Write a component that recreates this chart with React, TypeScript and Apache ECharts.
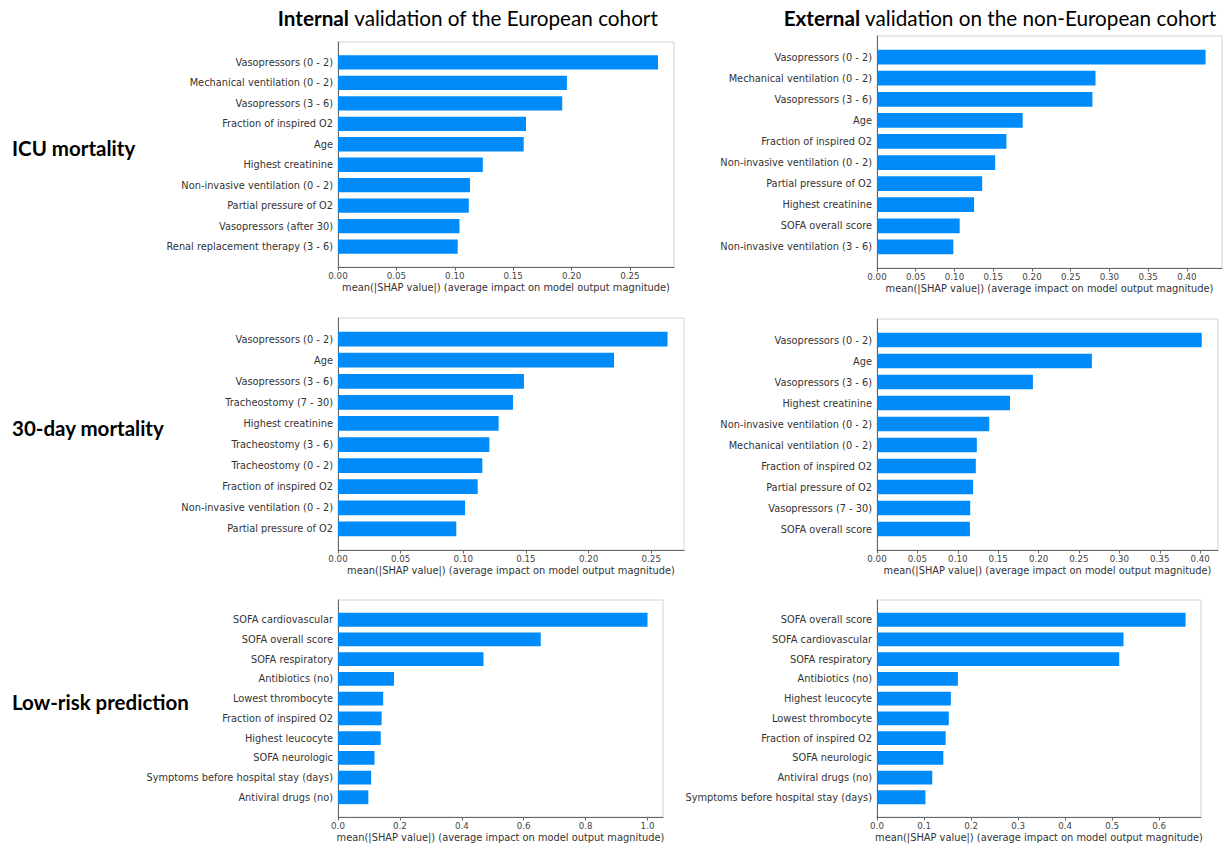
import React, { useEffect, useRef } from "react";
import * as echarts from "echarts";

// Mean |SHAP| feature importances, top ten features per model and cohort.
const icuInternalFeatures = [
  "Vasopressors (0 - 2)",
  "Mechanical ventilation (0 - 2)",
  "Vasopressors (3 - 6)",
  "Fraction of inspired O2",
  "Age",
  "Highest creatinine",
  "Non-invasive ventilation (0 - 2)",
  "Partial pressure of O2",
  "Vasopressors (after 30)",
  "Renal replacement therapy (3 - 6)",
];
const icuInternalValues = [0.274, 0.196, 0.192, 0.161, 0.159, 0.124, 0.113, 0.112, 0.104, 0.1025];

const icuExternalFeatures = [
  "Vasopressors (0 - 2)",
  "Mechanical ventilation (0 - 2)",
  "Vasopressors (3 - 6)",
  "Age",
  "Fraction of inspired O2",
  "Non-invasive ventilation (0 - 2)",
  "Partial pressure of O2",
  "Highest creatinine",
  "SOFA overall score",
  "Non-invasive ventilation (3 - 6)",
];
const icuExternalValues = [0.424, 0.282, 0.278, 0.188, 0.167, 0.1525, 0.1357, 0.1253, 0.1067, 0.0985];

const day30InternalFeatures = [
  "Vasopressors (0 - 2)",
  "Age",
  "Vasopressors (3 - 6)",
  "Tracheostomy (7 - 30)",
  "Highest creatinine",
  "Tracheostomy (3 - 6)",
  "Tracheostomy (0 - 2)",
  "Fraction of inspired O2",
  "Non-invasive ventilation (0 - 2)",
  "Partial pressure of O2",
];
const day30InternalValues = [0.263, 0.2203, 0.1484, 0.1397, 0.1282, 0.1208, 0.1152, 0.1115, 0.1014, 0.0944];

const day30ExternalFeatures = [
  "Vasopressors (0 - 2)",
  "Age",
  "Vasopressors (3 - 6)",
  "Highest creatinine",
  "Non-invasive ventilation (0 - 2)",
  "Mechanical ventilation (0 - 2)",
  "Fraction of inspired O2",
  "Partial pressure of O2",
  "Vasopressors (7 - 30)",
  "SOFA overall score",
];
const day30ExternalValues = [0.402, 0.266, 0.193, 0.1646, 0.139, 0.1236, 0.1223, 0.119, 0.1154, 0.115];

const lowRiskInternalFeatures = [
  "SOFA cardiovascular",
  "SOFA overall score",
  "SOFA respiratory",
  "Antibiotics (no)",
  "Lowest thrombocyte",
  "Fraction of inspired O2",
  "Highest leucocyte",
  "SOFA neurologic",
  "Symptoms before hospital stay (days)",
  "Antiviral drugs (no)",
];
const lowRiskInternalValues = [1.0, 0.655, 0.47, 0.181, 0.146, 0.141, 0.138, 0.118, 0.107, 0.098];

const lowRiskExternalFeatures = [
  "SOFA overall score",
  "SOFA cardiovascular",
  "SOFA respiratory",
  "Antibiotics (no)",
  "Highest leucocyte",
  "Lowest thrombocyte",
  "Fraction of inspired O2",
  "SOFA neurologic",
  "Antiviral drugs (no)",
  "Symptoms before hospital stay (days)",
];
const lowRiskExternalValues = [0.656, 0.524, 0.515, 0.172, 0.157, 0.1526, 0.146, 0.141, 0.1175, 0.103];

// Tick values for the x axes.
const ticksFine = [0, 0.05, 0.1, 0.15, 0.2, 0.25];
const ticksFineWide = [0, 0.05, 0.1, 0.15, 0.2, 0.25, 0.3, 0.35, 0.4];
const ticksTenths = [0, 0.1, 0.2, 0.3, 0.4, 0.5, 0.6];
const ticksFifths = [0, 0.2, 0.4, 0.6, 0.8, 1.0];

const columnTitles = [
  { bold: "Internal", rest: " validation of the European cohort" },
  { bold: "External", rest: " validation on the non-European cohort" },
];
const rowTitles = ["ICU mortality", "30-day mortality", "Low-risk prediction"];

const xAxisName = "mean(|SHAP value|) (average impact on model output magnitude)";

const BAR_COLOR = "#008bfb";
const PLOT_FONT = '"DejaVu Sans", Verdana, sans-serif';
const HEAD_FONT = 'Lato, "Open Sans", "Noto Sans", sans-serif';

// Plot boxes: [left, top, width, height] in px.
const panels = [
  { features: icuInternalFeatures, values: icuInternalValues, ticks: ticksFine, digits: 2, box: [338, 42, 336, 225] },
  { features: icuExternalFeatures, values: icuExternalValues, ticks: ticksFineWide, digits: 2, box: [877, 36, 345, 232] },
  { features: day30InternalFeatures, values: day30InternalValues, ticks: ticksFine, digits: 2, box: [338, 318, 346, 232] },
  { features: day30ExternalFeatures, values: day30ExternalValues, ticks: ticksFineWide, digits: 2, box: [877, 319, 341, 231] },
  { features: lowRiskInternalFeatures, values: lowRiskInternalValues, ticks: ticksFifths, digits: 1, box: [338, 600, 325, 217] },
  { features: lowRiskExternalFeatures, values: lowRiskExternalValues, ticks: ticksTenths, digits: 1, box: [877, 600, 324, 217] },
];

const columnCenters = [468, 1000];
const rowCenters = [148, 428, 702];

function buildOption() {
  const grid: any[] = [];
  const xAxis: any[] = [];
  const yAxis: any[] = [];
  const series: any[] = [];

  panels.forEach((p, i) => {
    const [left, top, width, height] = p.box;
    grid.push({
      left,
      top,
      width,
      height,
      show: true,
      borderColor: "#d4d4d4",
      borderWidth: 1,
      backgroundColor: "transparent",
    });
    xAxis.push({
      type: "value",
      gridIndex: i,
      min: 0,
      max: (e: { max: number }) => e.max * 1.05,
      splitLine: { show: false },
      axisLine: { show: true, lineStyle: { color: "#666", width: 1 } },
      axisTick: {
        show: true,
        length: 3.5,
        lineStyle: { color: "#666" },
        customValues: p.ticks,
      },
      axisLabel: {
        customValues: p.ticks,
        formatter: (v: number) => v.toFixed(p.digits),
        fontFamily: PLOT_FONT,
        fontSize: 8.7,
        color: "#444",
        margin: 4,
      },
      name: xAxisName,
      nameLocation: "middle",
      nameGap: 15,
      nameTextStyle: { fontFamily: PLOT_FONT, fontSize: 9.85, color: "#333" },
    });
    yAxis.push({
      type: "category",
      gridIndex: i,
      inverse: true,
      boundaryGap: false,
      data: ["", ...p.features, ""],
      axisLine: { show: true, lineStyle: { color: "#666", width: 1 } },
      axisTick: { show: false },
      splitLine: { show: false },
      axisLabel: {
        interval: 0,
        fontFamily: PLOT_FONT,
        fontSize: 9.8,
        color: "#333",
        margin: 5,
      },
    });
    series.push({
      type: "bar",
      xAxisIndex: i,
      yAxisIndex: i,
      barWidth: "70%",
      data: ["-", ...p.values, "-"],
      itemStyle: { color: BAR_COLOR },
    });
  });

  const graphic: any[] = [];
  columnTitles.forEach((t, i) => {
    graphic.push({
      type: "text",
      x: columnCenters[i],
      y: 18,
      style: {
        text: `{b|${t.bold}}{n|${t.rest}}`,
        align: "center",
        verticalAlign: "middle",
        fill: "#000",
        rich: {
          b: { fontFamily: HEAD_FONT, fontSize: 20.7, fontWeight: "bold", fill: "#000" },
          n: { fontFamily: HEAD_FONT, fontSize: 20.7, fontWeight: "normal", fill: "#000" },
        },
      },
    });
  });
  rowTitles.forEach((t, i) => {
    graphic.push({
      type: "text",
      x: 12,
      y: rowCenters[i],
      style: {
        text: t,
        align: "left",
        verticalAlign: "middle",
        fill: "#000",
        font: `bold 20.5px ${HEAD_FONT}`,
      },
    });
  });

  return {
    animation: false,
    backgroundColor: "#ffffff",
    grid,
    xAxis,
    yAxis,
    series,
    graphic,
  };
}

export default function App() {
  const ref = useRef<HTMLDivElement>(null);

  useEffect(() => {
    if (!ref.current) return;
    const chart = echarts.init(ref.current, undefined, { renderer: "svg" });
    chart.setOption(buildOption());
    return () => chart.dispose();
  }, []);

  return (
    <div
      ref={ref}
      style={{ position: "fixed", left: 0, top: 0, width: 1226, height: 846, background: "#fff" }}
    />
  );
}
